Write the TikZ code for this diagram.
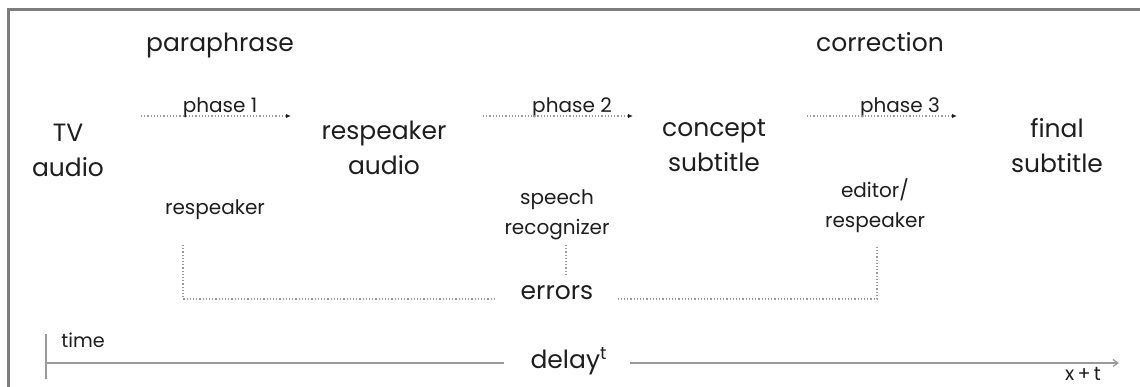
\documentclass[tikz,border=0pt]{standalone}
\usepackage{fontspec}
\setmainfont{Poppins}
\usetikzlibrary{arrows.meta}
\definecolor{ink}{HTML}{1E1E1E}
\definecolor{framegray}{HTML}{7C7C7C}
\definecolor{linegray}{HTML}{9A9A9A}

\begin{document}
\begin{tikzpicture}[x=0.5pt,y=-0.5pt,
	big/.style={font=\fontsize{12.5}{17.5}\selectfont,text=ink,align=center,inner sep=0pt},
	small/.style={font=\fontsize{10}{15}\selectfont,text=ink,align=center,inner sep=0pt},
	tiny/.style={font=\fontsize{9.6}{11}\selectfont,text=ink,inner sep=0pt},
	dots/.style={draw=linegray,densely dotted,line width=0.6pt},
	phasearrow/.style={dots,-{Latex[length=2.5pt,width=2.2pt,color=ink]}},
	timeline/.style={draw=linegray,line width=0.6pt}]
	\useasboundingbox (0,0) rectangle (1140,386);
	\draw[framegray,line width=1.5pt] (8,400) -- (8,9) -- (1150,9);
	\node[big] (tv) at (68,150) {TV\\audio};
	\node[big] (ra) at (384,148) {respeaker\\audio};
	\node[big] (cs) at (714,146) {concept\\subtitle};
	\node[big] (fs) at (1057,146) {final\\subtitle};
	\node[big,anchor=base] (para) at (220,51) {paraphrase};
	\node[big,anchor=base] (corr) at (880,51) {correction};
	\foreach \n/\s/\l in {1/141/220,2/483/572,3/807/900}{
		\coordinate (a\n) at (\s,116);
		\coordinate (b\n) at (\s+150,116);
		\node[small,anchor=base] (p\n) at (\l,112) {phase \n};
		\draw[phasearrow] (a\n) -- (b\n);
	}
	\node[small] (resp) at (215,210) {respeaker};
	\node[small] (sr) at (557,215) {speech\\recognizer};
	\node[small] (ed) at (875,206) {editor/\\respeaker};
	\node[big,anchor=base] (err) at (557,299) {errors};
	\coordinate (e1) at (183,245);
	\coordinate (e2) at (566,245);
	\coordinate (e3) at (877,246);
	\draw[dots,shorten >=12.5pt] (e1) |- (err.base west);
	\draw[dots,shorten <=12pt] (err.base east) -| (e3);
	\draw[dots] (e2) -- +(0,32);
	\node[big,anchor=base] (dly) at (569,368) {delay\textsuperscript{t}};
	\node[tiny,anchor=base] (time) at (83,347) {time};
	\node[tiny,anchor=base] (xt) at (1083,380) {x\,+\,t};
	\coordinate (t0) at (46,363);
	\coordinate (t1) at (1119,363);
	\draw[timeline] (46,334) -- (46,379);
	\draw[timeline,shorten >=13pt] (t0) -- (t0 -| dly.west);
	\draw[timeline,shorten <=11pt,-{Straight Barb[length=2.5pt,width=3.5pt]}] (t1 -| dly.east) -- (t1);
\end{tikzpicture}
\end{document}
